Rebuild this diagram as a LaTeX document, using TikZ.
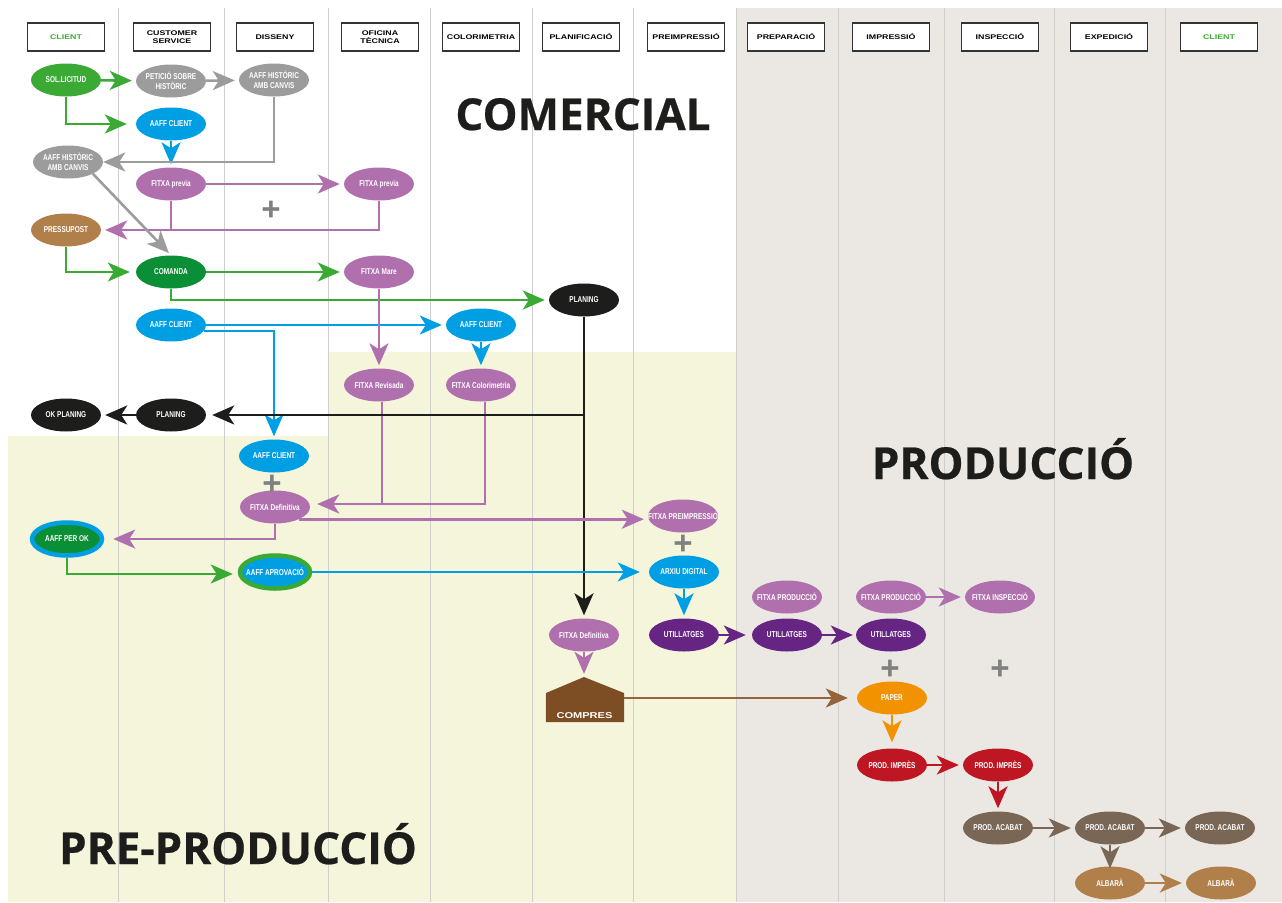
\documentclass[tikz,border=0pt]{standalone}
\usepackage{fontspec}
\setmainfont{Liberation Sans}
\newfontfamily\headfont[FakeStretch=1.3]{Liberation Sans}
\newfontfamily\ovalfont[FakeStretch=0.76]{Liberation Sans}
\newfontfamily\titlefont[FakeBold=0.5]{Open Sans}
\usetikzlibrary{arrows.meta,shapes.geometric,positioning}
\definecolor{cgreen}{HTML}{3BAA35}
\definecolor{cdarkgreen}{HTML}{0B8F36}
\definecolor{cgray}{HTML}{9C9C9C}
\definecolor{cblue}{HTML}{009FE3}
\definecolor{cmauve}{HTML}{B070AE}
\definecolor{ctan}{HTML}{B17F4A}
\definecolor{cblack}{HTML}{1D1D1B}
\definecolor{cviolet}{HTML}{662483}
\definecolor{cred}{HTML}{BE1622}
\definecolor{corange}{HTML}{F39200}
\definecolor{cbrown}{HTML}{7D4E24}
\definecolor{cbrownline}{HTML}{95643A}
\definecolor{ctaupe}{HTML}{796654}
\definecolor{cyellowbg}{HTML}{F5F5DC}
\definecolor{cgraybg}{HTML}{EBE8E3}
\definecolor{clane}{HTML}{CFCFCC}
\tikzset{oval/.style={
            ellipse,
            fill=#1,
            text=white,
            font=\ovalfont\bfseries\fontsize{8.5}{10.5}\selectfont,
            align=center,
            inner xsep=-14pt,
            inner ysep=-4pt,
            minimum width=70pt,
            minimum height=33pt
        },
        header/.style={
            draw=black!80,
            fill=white,
            line width=1.4pt,
            font=\headfont\bfseries\fontsize{6.8}{8}\selectfont,
            align=center,
            inner sep=0pt,
            minimum width=77pt,
            minimum height=28pt
        },
        flow/.style={
            draw=#1,
            line width=2.6pt,
            -{Stealth[length=22pt,width=19pt,inset=6pt]},
            shorten >=4pt
        },
        branch/.style={
            draw=#1,
            line width=2.6pt
        },
        plus/.style={
            text=gray,
            font=\bfseries\fontsize{33}{33}\selectfont,
            inner sep=0pt
        },
        areatitle/.style={
            text=cblack,
            anchor=base,
            font=\titlefont\bfseries\fontsize{44}{44}\selectfont,
            inner sep=0pt
        }
    }
\begin{document}
\begin{tikzpicture}[x=1pt,y=-1pt]
        \useasboundingbox (0,0) rectangle (1282,902);
        % areas
        \fill[cyellowbg] (8,436) -- (328,436) -- (328,352) -- (736,352) -- (736,902) -- (8,902) -- cycle;
        \fill[cgraybg] (736,8) rectangle (1282,902);
        \foreach \x in {118,224,328,430,532,633,736,838,944,1054,1165}
            \draw[clane,line width=0.9pt] (\x,8) -- (\x,902);
        \node[areatitle] at (583,130) (comercial) {COMERCIAL};
        \node[areatitle] at (1003,479) (produccio) {PRODUCCIÓ};
        \node[areatitle] at (238,864) (preproduccio) {PRE-PRODUCCIÓ};
        % columns
        \foreach \x/\name/\col in {66/CLIENT/cgreen,172/{CUSTOMER\\SERVICE}/black,275/DISSENY/black,
                380/{OFICINA\\TÈCNICA}/black,481/COLORIMETRIA/black,581/PLANIFICACIÓ/black,
                686/PREIMPRESSIÓ/black,786/PREPARACIÓ/black,891/IMPRESSIÓ/black,
                1000/INSPECCIÓ/black,1109/EXPEDICIÓ/black,1219/CLIENT/cgreen}
            \node[header,text=\col] at (\x,37) {\name};
        % nodes
        \node[oval=cgreen] at (66,80) (sollicitud) {SOL.LICITUD};
        \node[oval=cgray] at (171,81) (peticio) {PETICIÓ SOBRE\\HISTÒRIC};
        \node[oval=cgray] at (274,80) (historic) {AAFF HISTÒRIC\\AMB CANVIS};
        \node[oval=cblue] at (171,124) (aaffa) {AAFF CLIENT};
        \node[oval=cgray] at (68,162) (historicb) {AAFF HISTÒRIC\\AMB CANVIS};
        \node[oval=cmauve] at (171,184) (previaa) {FITXA previa};
        \node[oval=cmauve] at (379,184) (previab) {FITXA previa};
        \node[oval=ctan] at (66,230) (pressupost) {PRESSUPOST};
        \node[oval=cdarkgreen] at (171,272) (comanda) {COMANDA};
        \node[oval=cmauve] at (379,272) (mare) {FITXA Mare};
        \node[oval=cblack] at (584,300) (planinga) {PLANING};
        \node[oval=cblue] at (171,325) (aaffb) {AAFF CLIENT};
        \node[oval=cblue] at (481,325) (aaffc) {AAFF CLIENT};
        \node[oval=cmauve] at (379,385) (revisada) {FITXA Revisada};
        \node[oval=cmauve] at (481,385) (colorimetria) {FITXA Colorimetria};
        \node[oval=cblack] at (66,415) (okplaning) {OK PLANING};
        \node[oval=cblack] at (171,415) (planingb) {PLANING};
        \node[oval=cblue] at (274,456) (aaffd) {AAFF CLIENT};
        \node[oval=cmauve] at (275,507) (definitivaa) {FITXA Definitiva};
        \node[oval=cdarkgreen,draw=cblue,line width=4.5pt] at (67,539) (perok) {AAFF PER OK};
        \node[oval=cblue,draw=cgreen,line width=4.5pt] at (275,572) (aprovacio) {AAFF APROVACIÓ};
        \node[oval=cmauve] at (683,516) (fitxaprei) {FITXA PREIMPRESSIÓ};
        \node[oval=cblue] at (684,572) (arxiu) {ARXIU DIGITAL};
        \node[oval=cmauve] at (584,635) (definitivab) {FITXA Definitiva};
        \node[oval=cviolet] at (684,635) (utila) {UTILLATGES};
        \node[oval=cviolet] at (787,635) (utilb) {UTILLATGES};
        \node[oval=cviolet] at (891,635) (utilc) {UTILLATGES};
        \node[oval=cmauve] at (787,597) (fitxaproda) {FITXA PRODUCCIÓ};
        \node[oval=cmauve] at (891,597) (fitxaprodb) {FITXA PRODUCCIÓ};
        \node[oval=cmauve] at (1000,597) (fitxainsp) {FITXA INSPECCIÓ};
        \node[oval=corange] at (892,698) (paper) {PAPER};
        \node[oval=cred] at (892,765) (impresa) {PROD. IMPRÈS};
        \node[oval=cred] at (998,765) (impresb) {PROD. IMPRÈS};
        \node[oval=ctaupe] at (998,828) (acabata) {PROD. ACABAT};
        \node[oval=ctaupe] at (1110,828) (acabatb) {PROD. ACABAT};
        \node[oval=ctaupe] at (1220,828) (acabatc) {PROD. ACABAT};
        \node[oval=ctan] at (1110,883) (albaraa) {ALBARÀ};
        \node[oval=ctan] at (1221,883) (albarab) {ALBARÀ};
        \node[inner sep=0pt,minimum width=78pt,minimum height=45pt] at (585,699.5) (compres) {};
        \fill[cbrown] (compres.south west) -- (compres.south east) -- (624,693) -- (584,677) -- (546,693) -- cycle;
        \node[above=3pt of compres.south,xshift=-0.5pt,text=white,inner sep=0pt,font=\headfont\bfseries\fontsize{8.5}{10}\selectfont] (comprestext) {COMPRES};
        \node[plus] at (271,211) (plusa) {+};
        \node[plus] at (272,485) (plusb) {+};
        \node[plus] at (683,545) (plusc) {+};
        \node[plus] at (890,670) (plusd) {+};
        \node[plus] at (1000,670) (pluse) {+};
        % connectors
        \draw[flow=cgreen] (sollicitud) -- (peticio);
        \draw[flow=cgray] (peticio) -- (historic);
        \draw[flow=cgreen,shorten >=9pt] (sollicitud.south) |- (aaffa);
        \draw[flow=cblue,shorten >=3pt] (aaffa) -- (previaa);
        \draw[flow=cgray,shorten >=0pt] (historic.south) |- (historicb);
        \draw[flow=cmauve] (previaa) -- (previab);
        \draw[branch=cmauve] (previaa.south) -- (previaa.south |- pressupost);
        \draw[flow=cmauve] (previab.south) |- (pressupost);
        \draw[flow=cgray,shorten >=3pt] (historicb.south east) -- (comanda.north);
        \draw[flow=cgreen,shorten >=6pt] (pressupost.south) |- (comanda);
        \draw[flow=cgreen] (comanda) -- (mare);
        \draw[flow=cgreen] (comanda.south) |- (planinga);
        \draw[flow=cblue] (aaffb) -- (aaffc);
        \draw[flow=cblue,shorten >=3pt] (aaffb.-10) -| (aaffd.north);
        \draw[flow=cblue,shorten >=3pt] (aaffc) -- (colorimetria);
        \draw[flow=cmauve,shorten >=3pt] (mare) -- (revisada);
        \draw[branch=cmauve] ([xshift=3pt]revisada.south) -- ([xshift=3pt,yshift=3pt]revisada.south |- definitivaa.east);
        \draw[flow=cmauve,shorten >=7pt] ([xshift=4pt]colorimetria.south) |- ([yshift=3pt]definitivaa.east);
        \draw[flow=cblack,shorten >=3pt] (planinga.south) -- (definitivab.north);
        \draw[flow=cblack,shorten >=6pt] (planinga.south |- planingb) -- (planingb);
        \draw[flow=cblack] (planingb) -- (okplaning);
        \draw[flow=cmauve] (definitivaa.-27) -- (fitxaprei.west |- definitivaa.-27);
        \draw[flow=cmauve,shorten >=9pt] (definitivaa.south) |- (perok);
        \draw[flow=cgreen,shorten >=5pt] (perok.south) |- ([yshift=-2pt]aprovacio.west);
        \draw[flow=cblue,shorten >=9pt] (aprovacio) -- (arxiu);
        \draw[flow=cblue,shorten >=3pt] (arxiu) -- (utila);
        \draw[flow=cmauve,shorten >=3pt] (definitivab) -- (compres.north -| definitivab);
        \draw[flow=cviolet,shorten >=6pt] (utila) -- (utilb);
        \draw[flow=cviolet,shorten >=3pt] (utilb) -- (utilc);
        \draw[flow=cmauve] (fitxaprodb) -- (fitxainsp);
        \draw[flow=cbrownline,shorten >=9pt] ([yshift=1.5pt]compres.east) -- (paper);
        \draw[flow=corange,shorten >=6pt] (paper) -- (impresa);
        \draw[flow=cred] (impresa) -- (impresb);
        \draw[flow=cred,shorten >=3pt] (impresb) -- (acabata);
        \draw[flow=ctaupe] (acabata) -- (acabatb);
        \draw[flow=ctaupe] (acabatb) -- (acabatc);
        \draw[flow=ctaupe,shorten >=-2pt] (acabatb) -- (albaraa);
        \draw[flow=ctan] (albaraa) -- (albarab);
    \end{tikzpicture}
\end{document}
